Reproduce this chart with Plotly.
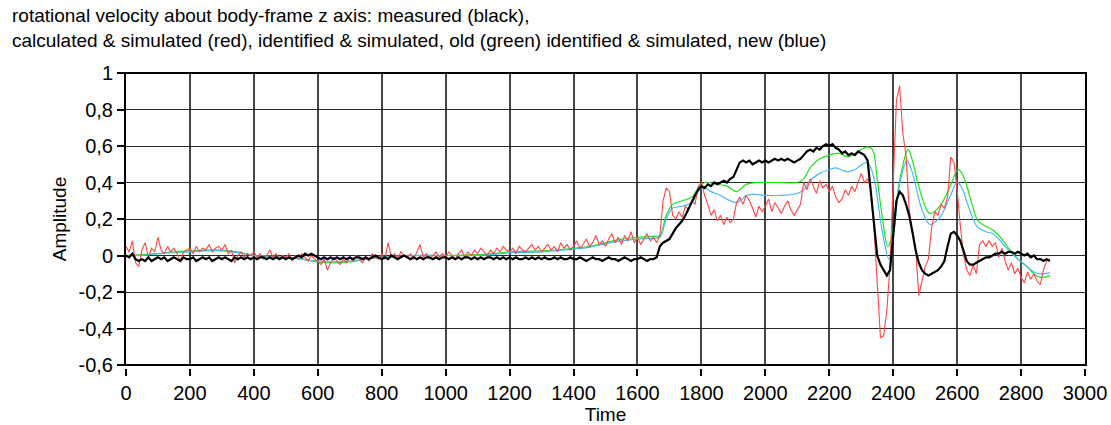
import plotly.graph_objects as go

# ---------------- data ----------------
t_step10 = list(range(0, 2900, 10))

measured_black = [
    0.00,-0.01,0.01,-0.02,-0.03,-0.02,-0.03,-0.01,-0.03,-0.02,
    -0.01,-0.02,-0.01,-0.03,-0.02,-0.01,-0.02,-0.03,-0.01,-0.02,
    -0.02,-0.01,-0.03,-0.02,-0.01,-0.02,-0.01,-0.03,-0.02,-0.01,
    -0.02,-0.01,-0.02,-0.03,-0.01,-0.02,-0.01,-0.02,-0.01,-0.02,
    -0.01,-0.02,-0.01,-0.01,-0.02,-0.01,-0.02,-0.01,-0.02,-0.01,
    -0.02,-0.01,-0.02,-0.01,0.00,-0.01,0.01,0.00,0.01,0.00,
    -0.01,-0.02,-0.01,-0.02,-0.01,-0.02,-0.01,-0.02,-0.01,-0.02,
    -0.01,-0.02,-0.01,-0.01,-0.02,-0.01,-0.02,-0.01,0.00,-0.01,
    -0.02,-0.01,-0.02,0.00,-0.01,-0.02,-0.01,0.00,-0.01,-0.02,
    -0.01,-0.02,-0.01,-0.02,-0.01,-0.01,-0.02,-0.01,-0.02,-0.01,
    -0.01,-0.02,-0.01,-0.02,-0.01,-0.02,-0.01,-0.01,-0.02,-0.01,
    -0.02,-0.01,-0.02,-0.01,-0.01,-0.02,-0.01,-0.02,-0.01,-0.02,
    -0.01,-0.02,-0.01,-0.02,-0.02,-0.01,-0.02,-0.01,-0.02,-0.01,
    -0.02,-0.01,-0.02,-0.02,-0.01,-0.02,-0.01,-0.02,-0.02,-0.01,
    -0.02,-0.02,-0.01,-0.02,-0.03,-0.02,-0.01,-0.02,-0.02,-0.03,
    -0.02,-0.01,-0.02,-0.02,-0.03,-0.02,-0.01,-0.02,-0.03,-0.02,
    -0.02,-0.01,-0.02,-0.03,-0.02,-0.02,-0.01,0.05,0.07,0.08,
    0.09,0.12,0.15,0.17,0.19,0.22,0.26,0.30,0.33,0.36,
    0.38,0.37,0.39,0.38,0.40,0.39,0.40,0.41,0.40,0.42,
    0.43,0.47,0.51,0.52,0.51,0.52,0.50,0.51,0.52,0.51,
    0.52,0.51,0.52,0.53,0.52,0.53,0.52,0.53,0.52,0.51,
    0.52,0.53,0.55,0.57,0.58,0.57,0.59,0.58,0.60,0.61,
    0.60,0.61,0.59,0.58,0.56,0.57,0.55,0.56,0.55,0.57,
    0.56,0.55,0.52,0.35,0.15,0.00,-0.05,-0.08,-0.11,-0.08,
    0.12,0.30,0.35,0.33,0.28,0.22,0.13,0.03,-0.04,-0.08,
    -0.10,-0.11,-0.10,-0.09,-0.08,-0.06,-0.03,0.05,0.12,0.13,
    0.11,0.08,0.02,-0.03,-0.05,-0.05,-0.04,-0.03,-0.02,-0.01,
    -0.01,0.00,0.01,0.01,0.02,0.01,0.02,0.02,0.01,0.02,
    0.01,0.00,0.01,-0.01,0.00,-0.02,-0.02,-0.03,-0.02,-0.03,
]

calculated_red = [
    0.05,0.02,0.08,-0.04,-0.06,0.03,0.07,-0.01,0.04,0.02,
    0.10,0.03,0.01,0.05,0.02,0.04,0.01,-0.03,0.02,0.03,
    0.04,0.01,0.05,0.02,0.04,0.03,0.06,0.02,0.04,0.05,
    0.03,0.06,0.01,0.03,-0.04,0.00,0.02,-0.01,0.01,0.00,
    0.02,-0.01,0.01,-0.02,0.00,0.03,-0.01,0.01,-0.02,0.00,
    -0.01,0.01,-0.03,0.00,-0.02,0.01,-0.01,-0.03,0.00,-0.02,
    -0.03,-0.05,-0.02,-0.08,-0.04,-0.01,-0.03,-0.05,-0.02,-0.04,
    -0.01,-0.03,0.00,-0.02,-0.04,-0.01,-0.03,0.01,-0.01,-0.02,
    0.01,-0.02,0.07,-0.01,0.01,-0.02,0.02,0.00,-0.01,0.01,
    -0.02,0.02,0.06,-0.01,0.01,-0.02,0.00,0.02,-0.01,0.01,
    -0.01,0.02,0.00,-0.02,0.01,0.03,-0.01,0.02,0.00,0.03,
    0.01,0.04,0.02,0.00,0.03,0.01,0.04,0.02,0.05,0.03,
    0.02,0.04,0.01,0.05,0.03,0.02,0.04,0.06,0.03,0.05,
    0.02,0.04,0.06,0.03,0.05,0.02,0.07,0.04,0.06,0.03,
    0.05,0.08,0.04,0.06,0.09,0.05,0.07,0.11,0.06,0.08,
    0.05,0.09,0.12,0.07,0.10,0.06,0.11,0.08,0.13,0.07,
    0.10,0.06,0.09,0.12,0.08,0.10,0.07,0.11,0.30,0.37,
    0.35,0.22,0.20,0.24,0.21,0.27,0.25,0.30,0.28,0.38,
    0.40,0.33,0.28,0.22,0.25,0.19,0.22,0.17,0.21,0.18,
    0.20,0.29,0.32,0.28,0.33,0.30,0.26,0.21,0.27,0.24,
    0.27,0.31,0.24,0.29,0.26,0.23,0.27,0.30,0.25,0.22,
    0.25,0.28,0.40,0.36,0.42,0.38,0.34,0.41,0.37,0.39,
    0.35,0.38,0.32,0.29,0.31,0.36,0.33,0.38,0.35,0.40,
    0.45,0.40,0.42,0.36,0.15,-0.15,-0.45,-0.44,-0.30,-0.05,
    0.45,0.85,0.93,0.67,0.55,0.25,0.12,0.04,-0.22,-0.14,
    -0.06,-0.02,0.15,0.24,0.22,0.28,0.26,0.32,0.54,0.51,
    0.36,0.16,0.00,-0.08,-0.11,-0.05,-0.10,0.06,0.08,0.05,
    0.08,0.05,0.07,-0.01,0.04,-0.03,-0.08,-0.04,-0.10,-0.07,
    -0.12,-0.15,-0.09,-0.13,-0.10,-0.14,-0.16,-0.08,-0.03,-0.02,
]

t_green = [0,50,100,150,200,250,300,350,400,450,500,550,600,650,700,750,800,850,900,1000,
           1100,1150,1200,1300,1400,1450,1500,1550,1600,1650,1670,1690,1710,1740,1770,1790,1810,1850,1880,1910,
           1940,1970,2000,2050,2100,2120,2140,2170,2200,2230,2260,2290,2320,2335,2350,2365,2383,2395,2410,2427,
           2446,2460,2475,2500,2515,2546,2577,2603,2615,2631,2650,2665,2690,2712,2740,2765,2790,2818,2840,2860,2890]
old_green = [0.00,0.005,0.01,0.02,0.025,0.03,0.03,0.02,0.00,-0.005,-0.01,-0.02,-0.035,-0.04,-0.035,-0.02,-0.01,-0.005,0.00,0.00,
             0.005,0.01,0.02,0.025,0.04,0.05,0.07,0.09,0.10,0.105,0.11,0.22,0.28,0.30,0.32,0.37,0.40,0.39,0.38,0.35,
             0.39,0.40,0.40,0.40,0.40,0.42,0.48,0.53,0.55,0.56,0.54,0.57,0.595,0.58,0.42,0.22,0.05,0.10,0.30,0.47,
             0.58,0.52,0.41,0.27,0.23,0.27,0.375,0.47,0.45,0.375,0.26,0.19,0.16,0.14,0.09,0.03,-0.02,-0.06,-0.10,-0.12,-0.11]

t_blue = [0,50,100,150,200,250,300,350,400,450,500,550,600,650,700,750,800,850,900,1000,
          1100,1150,1200,1300,1400,1450,1500,1550,1600,1650,1670,1690,1710,1740,1770,1790,1805,1830,1858,1890,
          1911,1942,1970,2000,2050,2100,2120,2140,2170,2200,2220,2254,2280,2296,2318,2330,2343,2365,2387,2400,
          2421,2443,2455,2468,2490,2515,2546,2577,2600,2615,2631,2650,2662,2690,2712,2740,2765,2790,2818,2840,2860,2890]
new_blue = [0.00,0.00,0.01,0.015,0.02,0.025,0.025,0.015,0.00,-0.005,-0.01,-0.02,-0.03,-0.035,-0.03,-0.02,-0.01,-0.005,0.00,0.00,
            0.00,0.005,0.015,0.02,0.035,0.045,0.065,0.08,0.09,0.095,0.10,0.20,0.26,0.27,0.29,0.35,0.375,0.35,0.33,0.30,
            0.29,0.33,0.335,0.33,0.33,0.34,0.36,0.41,0.45,0.47,0.48,0.46,0.47,0.49,0.51,0.48,0.40,0.14,-0.02,0.10,
            0.40,0.52,0.48,0.40,0.25,0.17,0.21,0.32,0.40,0.37,0.29,0.20,0.16,0.13,0.12,0.07,0.02,-0.02,-0.06,-0.09,-0.10,-0.095]

x_ticks = [0,200,400,600,800,1000,1200,1400,1600,1800,2000,2200,2400,2600,2800,3000]
y_ticks = [-0.6,-0.4,-0.2,0,0.2,0.4,0.6,0.8,1]
y_tick_labels = ["-0,6","-0,4","-0,2","0","0,2","0,4","0,6","0,8","1"]

title_text = ("rotational velocity about body-frame z axis: measured (black),<br>"
              "calculated &amp; simulated (red), identified &amp; simulated, old (green) identified &amp; simulated, new (blue)")

FONT = "Liberation Sans Narrow, Arial Narrow, Liberation Sans, Arial, sans-serif"

fig = go.Figure()
fig.add_trace(go.Scatter(x=t_green, y=old_green, mode="lines", line=dict(color="rgb(30,225,30)", width=1.2, shape="spline")))
fig.add_trace(go.Scatter(x=t_blue, y=new_blue, mode="lines", line=dict(color="rgb(70,185,250)", width=1.2, shape="spline")))
fig.add_trace(go.Scatter(x=t_step10, y=calculated_red, mode="lines", line=dict(color="rgb(255,70,70)", width=1.1)))
fig.add_trace(go.Scatter(x=t_step10, y=measured_black, mode="lines", line=dict(color="black", width=2.2)))

fig.update_layout(
    width=1111, height=425,
    margin=dict(l=125, r=25, t=73, b=57, autoexpand=False),
    paper_bgcolor="white", plot_bgcolor="white",
    showlegend=False,
    separators=",.",
    font=dict(family=FONT, size=20, color="black"),
    xaxis=dict(range=[-3, 3003], tickvals=x_ticks, showgrid=True, gridcolor="rgb(70,70,70)", gridwidth=1.5,
               zeroline=False, showline=False, ticks="outside", ticklen=7, tickwidth=1.5, tickcolor="black",
               anchor="free", position=0, automargin=False,
               title=dict(text="Time", font=dict(size=19), standoff=9)),
    yaxis=dict(range=[-0.6, 1], domain=[3/295, 1], tickvals=y_ticks, ticktext=y_tick_labels,
               showgrid=True, gridcolor="rgb(40,40,40)", gridwidth=1.3, automargin=False,
               zeroline=False, showline=False, ticks="outside", ticklen=7, tickwidth=1.5, tickcolor="black",
               title=dict(text="Amplitude", font=dict(size=19), standoff=6)),
)
fig.add_shape(type="rect", xref="x domain", yref="y domain", x0=0, x1=1, y0=0, y1=1,
              line=dict(color="black", width=2), layer="above")
fig.add_annotation(text=title_text, xref="paper", yref="paper", x=-115/961, y=1 + 70/295,
                   xanchor="left", yanchor="top", align="left", showarrow=False,
                   font=dict(family=FONT, size=19, color="black"))

fig.write_html("out.html")
